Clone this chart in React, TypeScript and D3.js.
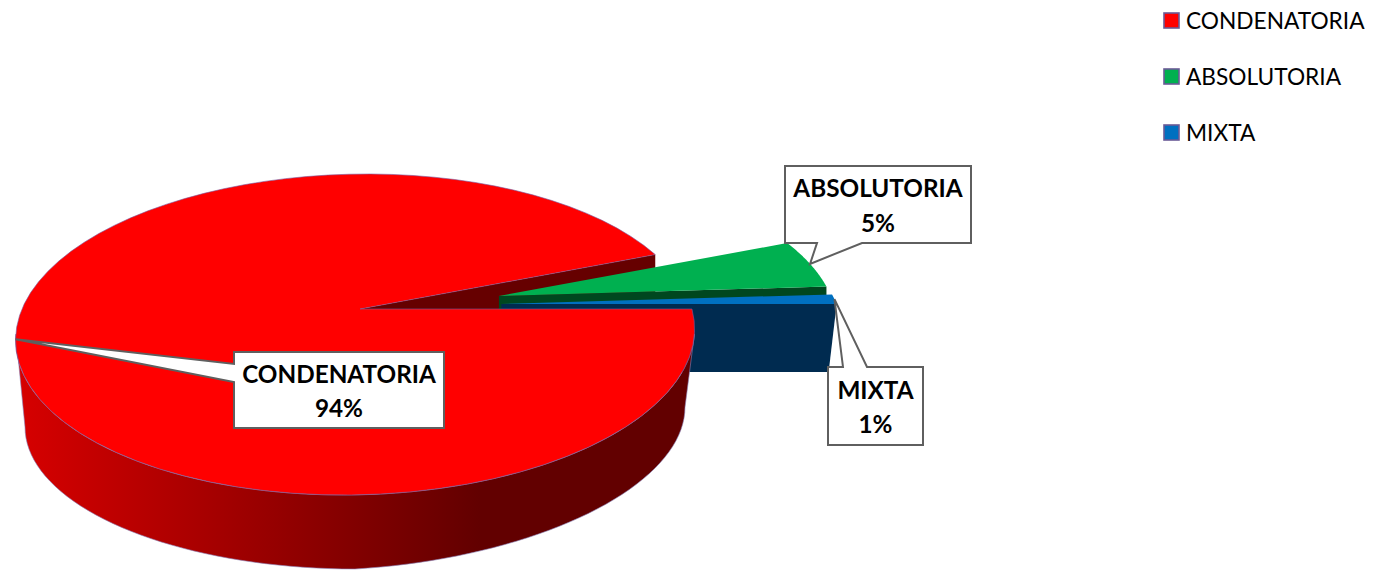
import React, { useRef, useEffect } from "react";
import * as d3 from "d3";

// values
const categories = ["CONDENATORIA", "ABSOLUTORIA", "MIXTA"];
const shares = [94, 5, 1];
const shareLabels = ["94%", "5%", "1%"];
const topColors = ["#ff0000", "#00b050", "#0070c0"];
const wallColors = ["#660000", "#00471f", "#002b50"];

// perspective of the disc: u,v are disc units, v grows towards the back
const X0 = 430;
const K = 335;
const persp = { a: -107.35, b: 309, c: 0.1589 };
const project = (u: number, v: number): [number, number] => {
    const w = 1 + persp.c * v;
    return [X0 + (K * u) / w, (persp.b + persp.a * v) / w];
};

// how far each slice is pulled out of the pie
const explode = [
    { u: -0.218, v: 0, apexNudge: 3 },
    { u: 0.213, v: 0.084, apexNudge: -1.5 },
    { u: 0.22, v: 0.032, apexNudge: -2 },
];
const WALL_DEPTH = 68;
const WALL_INSET = 8;

// callout boxes
const boxes = [
    { x: 234, y: 352, w: 210, h: 76, side: "left", p1: 12, p2: 30, base1: 383, base2: 417 },
    { x: 785, y: 166, w: 186, h: 77, side: "bottom", p1: 32, p2: 77, base1: 197, base2: 232 },
    { x: 828, y: 367, w: 95, h: 78, side: "top", p1: 15, p2: 39, base1: 399, base2: 433 },
];
const legendRows = [13, 69, 125];

const FONT = "Lato, 'Open Sans', sans-serif";

const deg = (d: number) => (d * Math.PI) / 180;

const Chart: React.FC = () => {
    const svgRef = useRef<SVGSVGElement | null>(null);

    useEffect(() => {
        const svg = d3.select(svgRef.current);
        svg.selectAll("*").remove();

        const slices = d3
            .pie<number>()
            .sort(null)
            .startAngle(Math.PI / 2)
            .endAngle(Math.PI / 2 + 2 * Math.PI)(shares);

        const line = d3.line();
        const rim = (i: number, angle: number) =>
            project(explode[i].u + Math.sin(angle), explode[i].v + Math.cos(angle));
        const apex = (i: number): [number, number] => {
            const p = project(explode[i].u, explode[i].v);
            return [p[0] + explode[i].apexNudge, p[1]];
        };
        const arc = (i: number, from: number, to: number) =>
            d3.range(0, 81).map((k) => rim(i, from + ((to - from) * k) / 80));

        const grad = svg
            .append("defs")
            .append("linearGradient")
            .attr("id", "redSide")
            .attr("gradientUnits", "userSpaceOnUse")
            .attr("x1", 20)
            .attr("x2", 480)
            .attr("y1", 0)
            .attr("y2", 0);
        grad.append("stop").attr("offset", 0).attr("stop-color", "#d60000");
        grad.append("stop").attr("offset", 1).attr("stop-color", "#620000");

        const [red, green, blue] = slices;

        // back cut of the red slice
        const redCorner = rim(0, red.endAngle);
        svg.append("path")
            .attr("d", line([apex(0), redCorner, [redCorner[0], redCorner[1] + WALL_DEPTH], [apex(0)[0], apex(0)[1] + WALL_DEPTH]]))
            .attr("fill", wallColors[0]);

        // green slice
        const greenA = apex(1);
        const greenB = rim(1, green.endAngle);
        svg.append("path")
            .attr("d", line([greenA, greenB, [greenB[0], greenB[1] + WALL_DEPTH], [greenA[0], greenA[1] + WALL_DEPTH]]))
            .attr("fill", wallColors[1]);
        svg.append("path")
            .attr("d", line([greenA, ...arc(1, green.startAngle, green.endAngle)]) + "Z")
            .attr("fill", topColors[1]);

        // blue slice
        const blueA = apex(2);
        const blueB = rim(2, blue.endAngle);
        svg.append("path")
            .attr("d", line([blueA, blueB, [blueB[0] - WALL_INSET, blueB[1] + WALL_DEPTH], [blueA[0], blueA[1] + WALL_DEPTH]]))
            .attr("fill", wallColors[2]);
        svg.append("path")
            .attr("d", line([blueA, ...arc(2, blue.startAngle, blue.endAngle)]) + "Z")
            .attr("fill", topColors[2]);

        // outer wall of the red slice
        const bottomEdge = d3.range(0, 81).map((k): [number, number] => {
            const t = deg(270 - (180 * k) / 80);
            const x = 355 + 330 * Math.sin(t);
            return [x, 427 - 142 * Math.cos(t) - 0.06 * Math.max(0, x - 355)];
        });
        svg.append("path")
            .attr("d", line([...arc(0, deg(99), deg(261)), ...bottomEdge]) + "Z")
            .attr("fill", "url(#redSide)")
            .attr("stroke", "#8a7fb5")
            .attr("stroke-width", 0.6);

        // red top
        svg.append("path")
            .attr("d", line([apex(0), ...arc(0, red.startAngle, red.endAngle)]) + "Z")
            .attr("fill", topColors[0])
            .attr("stroke", "#7a5aa0")
            .attr("stroke-width", 0.6);

        // callouts point at the middle of the slice rim
        slices.forEach((s, i) => {
            const b = boxes[i];
            const tip = rim(i, (s.startAngle + s.endAngle) / 2);
            const r = b.x + b.w;
            const d = b.y + b.h;
            const pts: [number, number][] = [[b.x, b.y]];
            if (b.side === "top") pts.push([b.x + b.p1, b.y], tip, [b.x + b.p2, b.y]);
            pts.push([r, b.y], [r, d]);
            if (b.side === "bottom") pts.push([b.x + b.p2, d], tip, [b.x + b.p1, d]);
            pts.push([b.x, d]);
            if (b.side === "left") pts.push([b.x, b.y + b.p2], tip, [b.x, b.y + b.p1]);
            svg.append("path")
                .attr("d", line(pts) + "Z")
                .attr("fill", "#fff")
                .attr("stroke", "#5f5f5f")
                .attr("stroke-width", 2);

            const cx = b.x + b.w / 2;
            [categories[i], shareLabels[i]].forEach((t, j) => {
                svg.append("text")
                    .attr("x", cx)
                    .attr("y", j === 0 ? b.base1 : b.base2)
                    .attr("text-anchor", "middle")
                    .attr("font-family", FONT)
                    .attr("font-weight", 700)
                    .attr("font-size", 24.3)
                    .attr("fill", "#000")
                    .text(t);
            });
        });

        // legend
        categories.forEach((c, i) => {
            svg.append("rect")
                .attr("x", 1164)
                .attr("y", legendRows[i])
                .attr("width", 15)
                .attr("height", 15)
                .attr("fill", topColors[i])
                .attr("stroke", "#6a5a96")
                .attr("stroke-width", 1.6);
            svg.append("text")
                .attr("x", 1186)
                .attr("y", legendRows[i] + 15.5)
                .attr("font-family", FONT)
                .attr("font-size", 22.7)
                .attr("fill", "#000")
                .text(c);
        });
    }, []);

    return (
        <svg
            ref={svgRef}
            width={1376}
            height={570}
            style={{ position: "absolute", left: 0, top: 0, background: "#fff" }}
        />
    );
};

export default function App() {
    return <Chart />;
}
